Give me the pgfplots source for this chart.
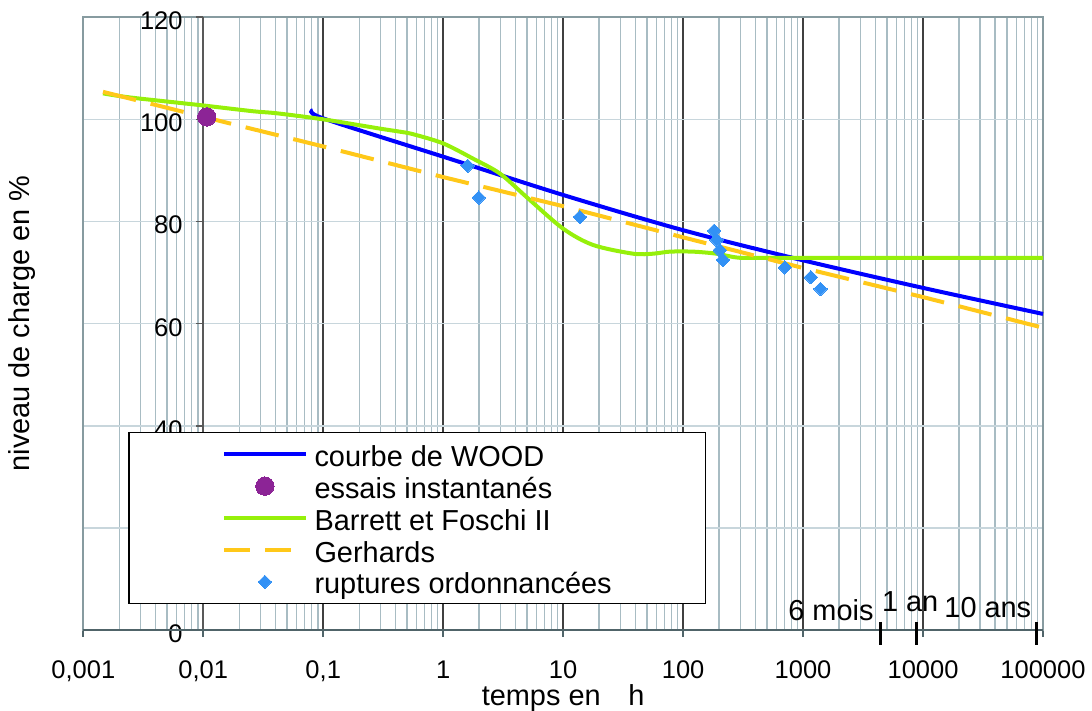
\documentclass[border=0pt]{standalone}
\usepackage{pgfplots}
\pgfplotsset{compat=1.18}
\usepackage{fontspec}
\setmainfont{Liberation Sans}

\definecolor{woodblue}{RGB}{0,0,255}
\definecolor{instpurple}{RGB}{140,36,150}
\definecolor{bfgreen}{RGB}{150,240,10}
\definecolor{gerhorange}{RGB}{255,200,25}
\definecolor{rupblue}{RGB}{50,145,245}
\definecolor{minorgrid}{RGB}{168,188,195}
\definecolor{hgrid}{RGB}{200,214,220}
\definecolor{boxcol}{RGB}{135,155,160}
\definecolor{axisdark}{RGB}{80,100,105}

\begin{document}
\begin{tikzpicture}
\begin{axis}[
  scale only axis, width=479.85pt, height=306.35pt,
  xmode=log, xmin=0.001, xmax=100000, ymin=0, ymax=120,
  clip=false,
  xtick={0.001,0.01,0.1,1,10,100,1000,10000,100000},
  xticklabels={{0,001},{0,01},{0,1},1,10,100,1000,10000,100000},
  minor xtick={0.002,0.003,0.004,0.005,0.006,0.007,0.008,0.009,
    0.02,0.03,0.04,0.05,0.06,0.07,0.08,0.09,
    0.2,0.3,0.4,0.5,0.6,0.7,0.8,0.9,
    2,3,4,5,6,7,8,9,
    20,30,40,50,60,70,80,90,
    200,300,400,500,600,700,800,900,
    2000,3000,4000,5000,6000,7000,8000,9000,
    20000,30000,40000,50000,60000,70000,80000,90000},
  ytick={0,20,40,60,80,100,120},
  yticklabels={0,20,40,60,80,100,120},
  xmajorgrids, xminorgrids, ymajorgrids,
  major x grid style={black!75, line width=0.75pt},
  minor x grid style={minorgrid, line width=0.8pt},
  major y grid style={hgrid, line width=0.8pt},
  axis line style={boxcol, line width=1pt},
  tick align=outside, major tick length=3.5pt, minor tick length=0pt,
  xtick pos=bottom, ytick pos=left,
  xtick style={axisdark, line width=0.8pt},
  ytick style={draw=none},
  tick label style={font=\fontsize{12.75}{15}\selectfont},
  yticklabel style={anchor=east, inner sep=0pt, xshift=53.35pt, yshift=-1.8pt},
  xticklabel style={anchor=north, inner sep=0pt, yshift=-11.6pt},
  legend style={at={(0.0469,0.3236)}, anchor=north west, draw=black,
    line width=0.6pt, fill=white, font=\fontsize{14.45}{17}\selectfont,
    inner xsep=46.7pt, inner ysep=3pt, row sep=0pt, column sep=3.5pt,
    nodes={inner sep=0pt, text height=14pt, text depth=1.95pt}},
  legend cell align=left,
  legend image code/.code={\draw[mark repeat=2,mark phase=2,#1]
    plot coordinates {(0pt,0pt) (20.3pt,0pt) (40.6pt,0pt)};},
]

% y axis drawn at t = 0.01 h
\draw[black!65, line width=1pt] (axis cs:0.01,0) -- (axis cs:0.01,120);
\pgfplotsinvokeforeach{0,20,40,60,80,100,120}{
  \draw[black!65, line width=0.8pt] (axis cs:0.01,#1) -- ++(-3.5pt,0pt);
}
\draw[axisdark, line width=1pt] (rel axis cs:0,0) -- (rel axis cs:1,0);

\addplot[woodblue, line width=2pt, smooth] coordinates {
  (0.082,101.8) (0.1,100.2) (1,92.7) (10,85.2) (100,78.3)
  (1000,72.4) (10000,67.0) (100000,61.9)
};
\addlegendentry{courbe de WOOD}

\addplot[only marks, mark=*, mark size=4.6pt,
  mark options={fill=instpurple, draw=instpurple, line width=0pt}]
  coordinates {(0.0107,100.5)};
\addlegendentry{essais instantanés}

\addplot[bfgreen, line width=2pt, smooth] coordinates {
  (0.00146,105.1) (0.00245,104.3) (0.0094,102.8) (0.026,101.6)
  (0.041,101.2) (0.101,100.0) (0.297,98.2) (0.435,97.6) (0.562,97.1)
  (1.0,95.3) (1.78,92.3) (2.97,89.4) (4.95,84.8) (10,78.6) (17.8,75.4)
  (38.3,73.7) (56.2,73.7) (77.5,74.1) (121,74.1) (190,73.7) (297,72.9)
  (639,72.9) (100000,72.9)
};
\addlegendentry{Barrett et Foschi II}

\addplot[gerhorange, line width=2pt, dash pattern=on 17pt off 7.5pt,
  legend image post style={dash pattern=on 13pt off 7.5pt}] coordinates {
  (0.00146,105.4) (0.01,100.5) (0.1,94.7) (1,88.7) (10,83.0)
  (100,76.9) (1000,70.9) (10000,65.2) (100000,59.2)
};
\addlegendentry{Gerhards}

\addplot[only marks, mark=square*, mark size=2.37pt,
  mark options={rotate=45, fill=rupblue, draw=rupblue, line width=0pt}]
  coordinates {
  (1.60,90.9) (1.98,84.7) (13.8,80.9) (181,78.2) (190,76.4) (202,74.4)
  (215,72.5) (704,71.0) (1160,69.1) (1396,66.8)
};
\addlegendentry{ruptures ordonnancées}

% durations marked on the time axis
\draw[black, line width=1.5pt] (axis cs:4380,1.57) -- (axis cs:4380,-2.94);
\draw[black, line width=1.5pt] (axis cs:8760,1.57) -- (axis cs:8760,-2.94);
\draw[black, line width=1.5pt] (axis cs:87600,1.57) -- (axis cs:87600,-2.94);
\node[anchor=base west, inner sep=0pt, font=\fontsize{14.45}{17}\selectfont]
  at (rel axis cs:0.7343,0.0163) {6 mois};
\node[anchor=base west, inner sep=0pt, font=\fontsize{14.45}{17}\selectfont]
  at (rel axis cs:0.8319,0.0294) {1 an};
\node[anchor=base west, inner sep=0pt, font=\fontsize{14.45}{17}\selectfont]
  at (rel axis cs:0.8969,0.0196) {10 ans};

\node[rotate=90, font=\fontsize{14.45}{17}\selectfont]
  at (rel axis cs:-0.0639,0.5) {niveau de charge en \%};
\node[anchor=base, font=\fontsize{14.45}{17}\selectfont]
  at (rel axis cs:0.5,-0.1225) {temps en\hspace{0.96em}h};
\end{axis}
\pgfresetboundingbox
\path[use as bounding box] (current axis.south west) ++(-41.65pt,-40.5pt)
  rectangle ++(546pt,355.5pt);
\end{tikzpicture}
\end{document}
